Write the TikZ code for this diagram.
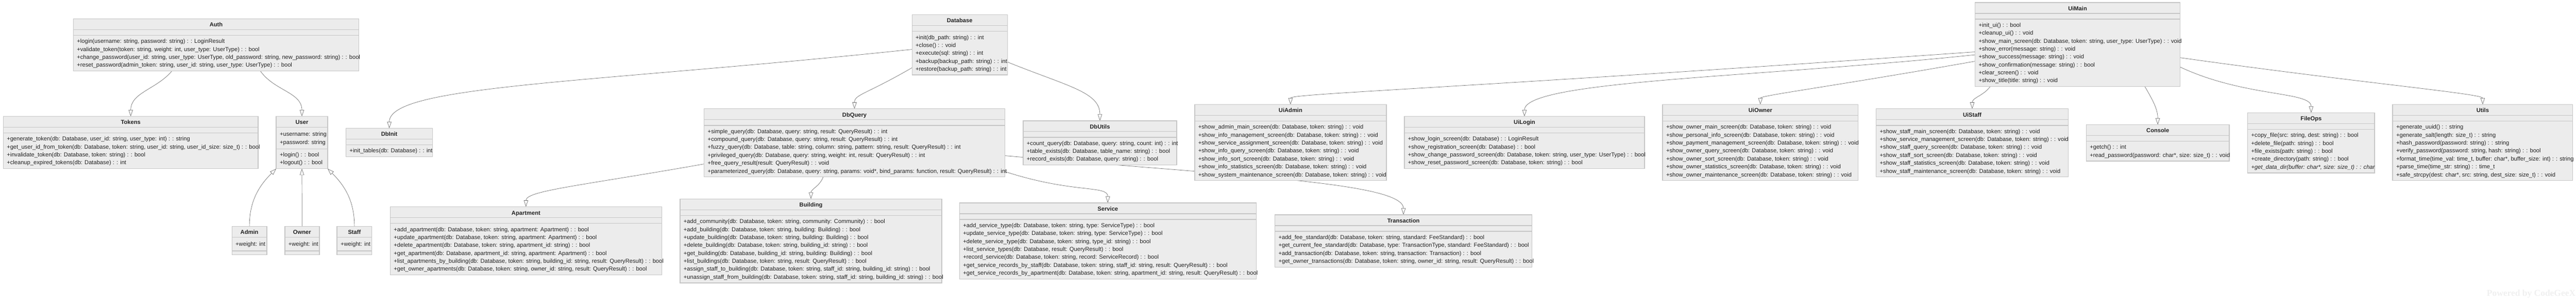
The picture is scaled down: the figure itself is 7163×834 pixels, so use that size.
\documentclass[tikz,border=0pt]{standalone}
\usepackage{fontspec}
\setmainfont{Liberation Sans}
\newfontfamily\markfont{Liberation Serif}
\usepackage{tikz}
\usetikzlibrary{arrows.meta}

\definecolor{boxfill}{HTML}{ECECEC}
\definecolor{boxrule}{HTML}{C6C6C6}
\definecolor{edgegray}{HTML}{707070}
\definecolor{inkdark}{HTML}{222222}
\definecolor{markgray}{HTML}{F0F0F0}

\pgfdeclarelayer{bg}
\pgfdeclarelayer{edges}
\pgfsetlayers{bg,edges,main}

% one unit = one pixel of the reference = 0.1pt
\tikzset{
  classbox/.style={draw=boxrule, fill=boxfill, line width=0.2pt, inner sep=0pt, outer sep=0pt, anchor=north west},
  classname/.style={anchor=base, inner sep=0pt, text=inkdark, font=\fontsize{1.6pt}{2.2pt}\selectfont\bfseries},
  member/.style={anchor=base west, inner sep=0pt, text=inkdark, font=\fontsize{1.6pt}{2.2pt}\selectfont},
  divider/.style={draw=boxrule, line width=0.2pt},
  inherit/.style={draw=edgegray, line width=0.1pt, -{Triangle[open, length=1.8pt, width=1.2pt]}},
}

% class box: name, x, y (top left), width, title, #attributes, attributes, #methods, methods
\newcommand{\umlclass}[9]{%
  \pgfmathsetmacro\attrh{1.6+2.2*#6}%
  \pgfmathsetmacro\boxh{3+\attrh+1.1+2.2*#8}%
  \pgfmathsetmacro\boxw{0.1*#4}%
  \node[classbox, minimum width=\boxw pt, minimum height=\boxh pt] (#1) at (#2,-#3) {};
  \node[classname] at ([yshift=-2.2pt]#1.north) {#5};
  \draw[divider] ([yshift=-3pt]#1.north west) -- ([yshift=-3pt]#1.north east);
  \draw[divider] ([yshift=-3pt-\attrh pt]#1.north west) -- ([yshift=-3pt-\attrh pt]#1.north east);
  \ifnum#6>0
    \foreach \a [count=\i from 0] in {#7} {
      \pgfmathsetmacro\yy{5.5+2.2*\i}
      \node[member] at ([xshift=0.8pt, yshift=-\yy pt]#1.north west) {\a};
    }
  \fi
  \ifnum#8>0
    \foreach \m [count=\i from 0] in {#9} {
      \pgfmathsetmacro\yy{3+\attrh+2.2+2.2*\i}
      \node[member] at ([xshift=0.8pt, yshift=-\yy pt]#1.north west) {\m};
    }
  \fi
}

\begin{document}
\begin{tikzpicture}[x=0.1pt, y=0.1pt]
    \useasboundingbox (0,0) rectangle (7163,-834);
    \begin{pgfonlayer}{bg}
        \fill[white] (0,0) rectangle (7163,-834);
    \end{pgfonlayer}

    % Auth and users
    \umlclass{auth}{204}{52}{794}{Auth}{0}{}{4}{%
        {+login(username: string, password: string) : : LoginResult},%
        {+validate\_token(token: string, weight: int, user\_type: UserType) : : bool},%
        {+change\_password(user\_id: string, user\_type: UserType, old\_password: string, new\_password: string) : : bool},%
        {+reset\_password(admin\_token: string, user\_id: string, user\_type: UserType) : : bool}}
    \umlclass{tokens}{9}{323}{709}{Tokens}{0}{}{4}{%
        {+generate\_token(db: Database, user\_id: string, user\_type: int) : : string},%
        {+get\_user\_id\_from\_token(db: Database, token: string, user\_id: string, user\_id\_size: size\_t) : : bool},%
        {+invalidate\_token(db: Database, token: string) : : bool},%
        {+cleanup\_expired\_tokens(db: Database) : : int}}
    \umlclass{user}{768}{323}{143}{User}{2}{{+username: string},{+password: string}}{2}{%
        {+login() : : bool},{+logout() : : bool}}
    \umlclass{admin}{645}{628}{97}{Admin}{1}{{+weight: int}}{0}{}
    \umlclass{owner}{792}{628}{96}{Owner}{1}{{+weight: int}}{0}{}
    \umlclass{staff}{937}{628}{97}{Staff}{1}{{+weight: int}}{0}{}

    % Database layer
    \umlclass{dbinit}{962}{356}{241}{DbInit}{0}{}{1}{{+init\_tables(db: Database) : : int}}
    \umlclass{database}{2536}{41}{265}{Database}{0}{}{5}{%
        {+init(db\_path: string) : : int},%
        {+close() : : void},%
        {+execute(sql: string) : : int},%
        {+backup(backup\_path: string) : : int},%
        {+restore(backup\_path: string) : : int}}
    \umlclass{dbquery}{1958}{302}{836}{DbQuery}{0}{}{6}{%
        {+simple\_query(db: Database, query: string, result: QueryResult) : : int},%
        {+compound\_query(db: Database, query: string, result: QueryResult) : : int},%
        {+fuzzy\_query(db: Database, table: string, column: string, pattern: string, result: QueryResult) : : int},%
        {+privileged\_query(db: Database, query: string, weight: int, result: QueryResult) : : int},%
        {+free\_query\_result(result: QueryResult) : : void},%
        {+parameterized\_query(db: Database, query: string, params: void*, bind\_params: function, result: QueryResult) : : int}}
    \umlclass{dbutils}{2845}{335}{427}{DbUtils}{0}{}{3}{%
        {+count\_query(db: Database, query: string, count: int) : : int},%
        {+table\_exists(db: Database, table\_name: string) : : bool},%
        {+record\_exists(db: Database, query: string) : : bool}}

    % Business modules
    \umlclass{apartment}{1085}{574}{755}{Apartment}{0}{}{6}{%
        {+add\_apartment(db: Database, token: string, apartment: Apartment) : : bool},%
        {+update\_apartment(db: Database, token: string, apartment: Apartment) : : bool},%
        {+delete\_apartment(db: Database, token: string, apartment\_id: string) : : bool},%
        {+get\_apartment(db: Database, apartment\_id: string, apartment: Apartment) : : bool},%
        {+list\_apartments\_by\_building(db: Database, token: string, building\_id: string, result: QueryResult) : : bool},%
        {+get\_owner\_apartments(db: Database, token: string, owner\_id: string, result: QueryResult) : : bool}}
    \umlclass{building}{1891}{552}{728}{Building}{0}{}{8}{%
        {+add\_community(db: Database, token: string, community: Community) : : bool},%
        {+add\_building(db: Database, token: string, building: Building) : : bool},%
        {+update\_building(db: Database, token: string, building: Building) : : bool},%
        {+delete\_building(db: Database, token: string, building\_id: string) : : bool},%
        {+get\_building(db: Database, building\_id: string, building: Building) : : bool},%
        {+list\_buildings(db: Database, token: string, result: QueryResult) : : bool},%
        {+assign\_staff\_to\_building(db: Database, token: string, staff\_id: string, building\_id: string) : : bool},%
        {+unassign\_staff\_from\_building(db: Database, token: string, staff\_id: string, building\_id: string) : : bool}}
    \umlclass{service}{2668}{563}{825}{Service}{0}{}{7}{%
        {+add\_service\_type(db: Database, token: string, type: ServiceType) : : bool},%
        {+update\_service\_type(db: Database, token: string, type: ServiceType) : : bool},%
        {+delete\_service\_type(db: Database, token: string, type\_id: string) : : bool},%
        {+list\_service\_types(db: Database, result: QueryResult) : : bool},%
        {+record\_service(db: Database, token: string, record: ServiceRecord) : : bool},%
        {+get\_service\_records\_by\_staff(db: Database, token: string, staff\_id: string, result: QueryResult) : : bool},%
        {+get\_service\_records\_by\_apartment(db: Database, token: string, apartment\_id: string, result: QueryResult) : : bool}}
    \umlclass{transaction}{3545}{596}{715}{Transaction}{0}{}{4}{%
        {+add\_fee\_standard(db: Database, token: string, standard: FeeStandard) : : bool},%
        {+get\_current\_fee\_standard(db: Database, type: TransactionType, standard: FeeStandard) : : bool},%
        {+add\_transaction(db: Database, token: string, transaction: Transaction) : : bool},%
        {+get\_owner\_transactions(db: Database, token: string, owner\_id: string, result: QueryResult) : : bool}}

    % User interface
    \umlclass{uiadmin}{3322}{290}{533}{UiAdmin}{0}{}{7}{%
        {+show\_admin\_main\_screen(db: Database, token: string) : : void},%
        {+show\_info\_management\_screen(db: Database, token: string) : : void},%
        {+show\_service\_assignment\_screen(db: Database, token: string) : : void},%
        {+show\_info\_query\_screen(db: Database, token: string) : : void},%
        {+show\_info\_sort\_screen(db: Database, token: string) : : void},%
        {+show\_info\_statistics\_screen(db: Database, token: string) : : void},%
        {+show\_system\_maintenance\_screen(db: Database, token: string) : : void}}
    \umlclass{uilogin}{3905}{323}{668}{UiLogin}{0}{}{4}{%
        {+show\_login\_screen(db: Database) : : LoginResult},%
        {+show\_registration\_screen(db: Database) : : bool},%
        {+show\_change\_password\_screen(db: Database, token: string, user\_type: UserType) : : bool},%
        {+show\_reset\_password\_screen(db: Database, token: string) : : bool}}
    \umlclass{uiowner}{4623}{290}{544}{UiOwner}{0}{}{7}{%
        {+show\_owner\_main\_screen(db: Database, token: string) : : void},%
        {+show\_personal\_info\_screen(db: Database, token: string) : : void},%
        {+show\_payment\_management\_screen(db: Database, token: string) : : void},%
        {+show\_owner\_query\_screen(db: Database, token: string) : : void},%
        {+show\_owner\_sort\_screen(db: Database, token: string) : : void},%
        {+show\_owner\_statistics\_screen(db: Database, token: string) : : void},%
        {+show\_owner\_maintenance\_screen(db: Database, token: string) : : void}}
    \umlclass{uistaff}{5217}{302}{534}{UiStaff}{0}{}{6}{%
        {+show\_staff\_main\_screen(db: Database, token: string) : : void},%
        {+show\_service\_management\_screen(db: Database, token: string) : : void},%
        {+show\_staff\_query\_screen(db: Database, token: string) : : void},%
        {+show\_staff\_sort\_screen(db: Database, token: string) : : void},%
        {+show\_staff\_statistics\_screen(db: Database, token: string) : : void},%
        {+show\_staff\_maintenance\_screen(db: Database, token: string) : : void}}
    \umlclass{uimain}{5492}{7}{570}{UiMain}{0}{}{8}{%
        {+init\_ui() : : bool},%
        {+cleanup\_ui() : : void},%
        {+show\_main\_screen(db: Database, token: string, user\_type: UserType) : : void},%
        {+show\_error(message: string) : : void},%
        {+show\_success(message: string) : : void},%
        {+show\_confirmation(message: string) : : bool},%
        {+clear\_screen() : : void},%
        {+show\_title(title: string) : : void}}

    % Helpers
    \umlclass{console}{5801}{346}{398}{Console}{0}{}{2}{%
        {+getch() : : int},%
        {+read\_password(password: char*, size: size\_t) : : void}}
    \umlclass{fileops}{6250}{313}{353}{FileOps}{0}{}{5}{%
        {+copy\_file(src: string, dest: string) : : bool},%
        {+delete\_file(path: string) : : bool},%
        {+file\_exists(path: string) : : bool},%
        {+create\_directory(path: string) : : bool},%
        {\textit{+get\_data\_dir(buffer: char*, size: size\_t) : : char}}}
    \umlclass{utils}{6653}{290}{501}{Utils}{0}{}{7}{%
        {+generate\_uuid() : : string},%
        {+generate\_salt(length: size\_t) : : string},%
        {+hash\_password(password: string) : : string},%
        {+verify\_password(password: string, hash: string) : : bool},%
        {+format\_time(time\_val: time\_t, buffer: char*, buffer\_size: int) : : string},%
        {+parse\_time(time\_str: string) : : time\_t},%
        {+safe\_strcpy(dest: char*, src: string, dest\_size: size\_t) : : void}}

    \node[anchor=base west, inner sep=0pt, text=markgray, font=\markfont\bfseries\fontsize{2.5pt}{2.5pt}\selectfont] (watermark) at (6913,-821) {Powered by CodeGeeX};

    % Connectors, behind the boxes
    \begin{pgfonlayer}{edges}
        \draw[inherit] ([xshift=-12.3pt]auth.south) to[out=-130, in=90] (tokens.north);
        \draw[inherit] ([xshift=12.3pt]auth.south) to[out=-55, in=90] (user.north);
        \draw[inherit] (admin.north) to[out=90, in=-135] (user.south west);
        \draw[inherit] (owner.north) -- (user.south);
        \draw[inherit] (staff.north) to[out=90, in=-45] (user.south east);

        \draw[inherit] ([yshift=-1.25pt]database.west) to[out=186, in=90, out distance=90pt, in distance=12pt] (dbinit.north);
        \draw[inherit] ([yshift=-6.35pt]database.west) to[out=-150, in=90, out distance=15pt, in distance=4pt] (dbquery.north);
        \draw[inherit] ([yshift=-4.75pt]database.east) to[out=-22, in=90, out distance=18pt, in distance=8pt] (dbutils.north);

        \draw[inherit] ([yshift=-5.85pt]dbquery.west) to[out=190, in=90, out distance=35pt, in distance=4.5pt] (apartment.north);
        \draw[inherit] ([xshift=-8.7pt]dbquery.south) to[out=-110, in=90] (building.north);
        \draw[inherit] ([yshift=-7.95pt]dbquery.east) to[out=-18, in=90, out distance=20pt, in distance=5pt] (service.north);
        \draw[inherit] ([yshift=-3.55pt]dbquery.east) to[out=-5, in=90, out distance=65pt, in distance=9pt] (transaction.north);

        \draw[inherit] ([yshift=-2.05pt]uimain.west) to[out=184, in=90, out distance=150pt, in distance=3pt] (uiadmin.north);
        \draw[inherit] ([yshift=-2.85pt]uimain.west) to[out=186, in=90, out distance=60pt, in distance=10pt] (uilogin.north);
        \draw[inherit] ([yshift=-4.65pt]uimain.west) to[out=190, in=90, out distance=40pt, in distance=2.5pt] (uiowner.north);
        \draw[inherit] ([xshift=-24.3pt]uimain.south) to[out=-125, in=90] (uistaff.north);
        \draw[inherit] ([xshift=18.7pt]uimain.south) to[out=-60, in=90] (console.north);
        \draw[inherit] ([yshift=-6.25pt]uimain.east) to[out=-25, in=90, out distance=20pt, in distance=6pt] (fileops.north);
        \draw[inherit] ([yshift=-3.65pt]uimain.east) to[out=-8, in=90, out distance=50pt, in distance=3pt] (utils.north);
    \end{pgfonlayer}
\end{tikzpicture}
\end{document}
